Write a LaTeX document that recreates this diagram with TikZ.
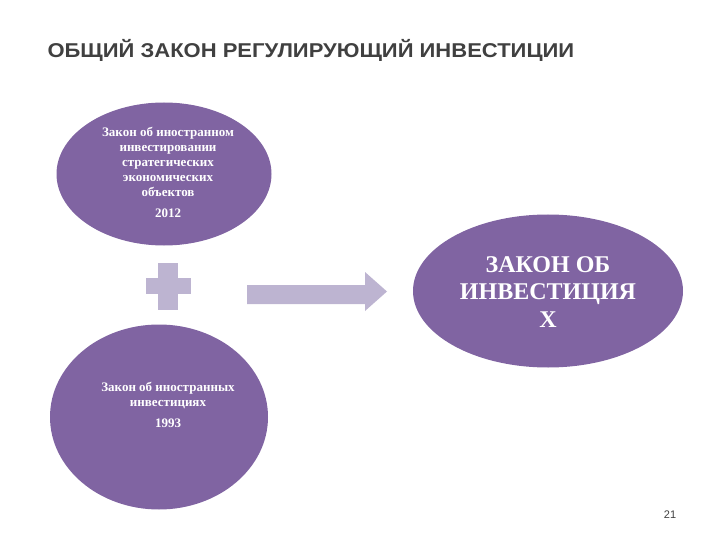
\documentclass[tikz,border=0pt]{standalone}
\usepackage{fontspec}
\setmainfont{Liberation Serif}
\newfontfamily\titlefont{Liberation Sans}
\newfontfamily\titlewide[FakeStretch=1.1]{Liberation Sans}
\usetikzlibrary{shapes.geometric}
\definecolor{purp}{HTML}{8064A2}
\definecolor{lav}{HTML}{BDB4D1}
\definecolor{tgray}{HTML}{404040}
\begin{document}
\begin{tikzpicture}[x=1pt,y=-1pt,
  ell/.style={ellipse,fill=purp,draw=none,inner sep=0pt,minimum width=#1},
  etext/.style={text=white,align=center,font=\bfseries\fontsize{13}{15}\selectfont}]
\useasboundingbox (0,0) rectangle (720,540);
\node[anchor=west,text=tgray,font=\titlewide\bfseries\fontsize{20}{24}\selectfont] (title) at (44,50) {ОБЩИЙ ЗАКОН РЕГУЛИРУЮЩИЙ ИНВЕСТИЦИИ};
\node[ell=215,minimum height=143] (e1) at (164,174) {};
\node[etext] (t1) at (168,172) {Закон об иностранном\\инвестировании\\стратегических\\экономических\\объектов\\[6pt]2012};
\node[ell=270,minimum height=153] (e2) at (548,291) {};
\node[text=white,align=center,font=\bfseries\fontsize{24}{27.5}\selectfont] (t2) at (548,292) {ЗАКОН ОБ\\ИНВЕСТИЦИЯ\\Х};
\node[ell=218,minimum height=185] (e3) at (159,417) {};
\node[etext] (t3) at (168,405) {Закон об иностранных\\инвестициях\\[6pt]1993};
\fill[lav] (158,263) rectangle (178,310);
\fill[lav] (146,278) rectangle (191,294);
\fill[lav] (247,285) -- (365,285) -- (365,272) -- (387,291.5) -- (365,311) -- (365,304) -- (247,304) -- cycle;
\node[text=tgray,font=\titlefont\fontsize{11}{13}\selectfont] (pg) at (670,515) {21};
\end{tikzpicture}
\end{document}
